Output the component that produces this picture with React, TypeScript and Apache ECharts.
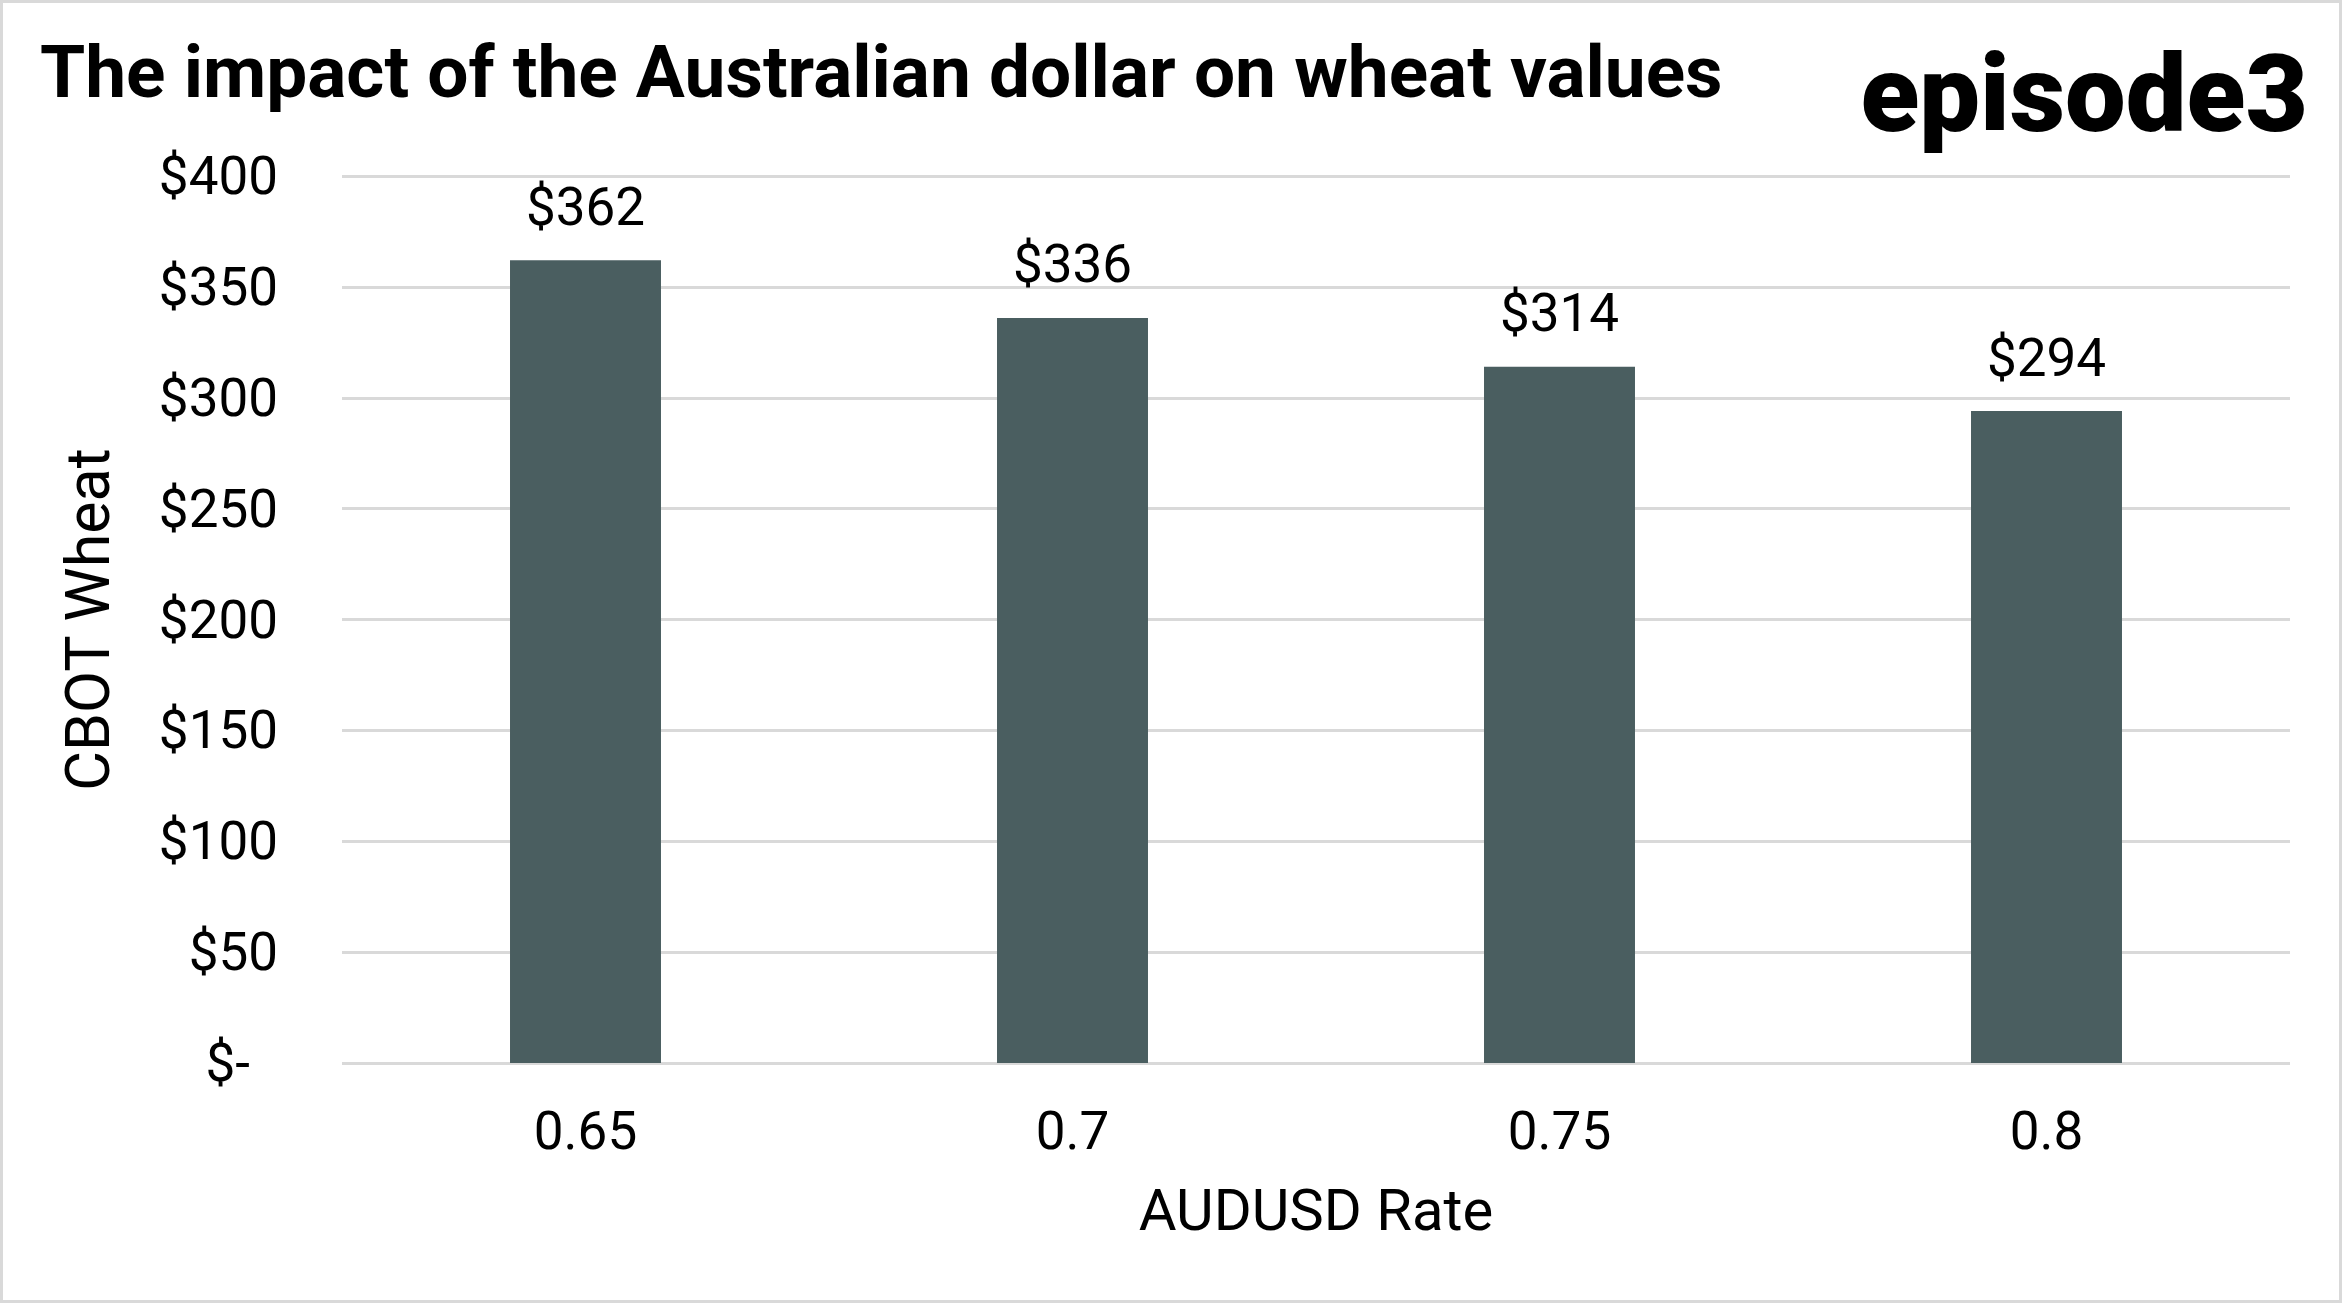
import React, { useEffect, useRef } from "react";
import * as echarts from "echarts";

const categories = ["0.65", "0.7", "0.75", "0.8"];
const wheatValues = [362, 336, 314, 294];
const yTicks = [0, 50, 100, 150, 200, 250, 300, 350, 400];

const TITLE = "The impact of the Australian dollar on wheat values";
const LOGO = "episode3";
const FONT = "Roboto, 'Noto Sans', sans-serif";

export default function App() {
  const ref = useRef<HTMLDivElement>(null);
  useEffect(() => {
    document.body.style.margin = "0";
    const chart = echarts.init(ref.current!, null, { renderer: "svg" });
    chart.setOption({
      animation: false,
      backgroundColor: "#ffffff",
      textStyle: { fontFamily: FONT },
      grid: { left: 342, right: 52, top: 176, bottom: 240 },
      graphic: [
        {
          type: "rect",
          shape: { x: 1.5, y: 1.5, width: 2339, height: 1300 },
          style: { fill: "none", stroke: "#d9d9d9", lineWidth: 3 },
        },
        {
          type: "text",
          x: 40,
          y: 72,
          style: {
            text: TITLE,
            fontFamily: FONT,
            fontWeight: "bold",
            fontSize: 73,
            fill: "#000",
            verticalAlign: "middle",
            align: "left",
          },
        },
        {
          type: "text",
          x: 2308,
          y: 94,
          style: {
            text: LOGO,
            fontFamily: FONT,
            fontWeight: 900,
            fontSize: 108,
            fill: "#000",
            verticalAlign: "middle",
            align: "right",
          },
        },
      ],
      xAxis: {
        type: "category",
        data: categories,
        axisLine: { show: false },
        axisTick: { show: false },
        axisLabel: { margin: 41, fontSize: 53, color: "#000", fontFamily: FONT },
        name: "AUDUSD Rate",
        nameLocation: "middle",
        nameGap: 118,
        nameTextStyle: { fontSize: 58, color: "#000", fontFamily: FONT },
      },
      yAxis: {
        type: "value",
        min: 0,
        max: 400,
        interval: 50,
        axisLine: { show: false },
        axisTick: { show: false },
        splitLine: { show: true, lineStyle: { color: "#d9d9d9", width: 3 } },
        axisLabel: {
          margin: 64,
          fontSize: 53,
          color: "#000",
          fontFamily: FONT,
          formatter: (v: number) => (yTicks.indexOf(v) === 0 ? "{z|$-}" : "$" + v),
          rich: { z: { fontSize: 53, color: "#000", fontFamily: FONT, padding: [0, 28, 0, 0] } },
        },
        name: "CBOT Wheat",
        nameLocation: "middle",
        nameGap: 224,
        nameTextStyle: { fontSize: 61, color: "#000", fontFamily: FONT },
      },
      series: [
        {
          type: "bar",
          data: wheatValues,
          barWidth: "31%",
          itemStyle: { color: "#4a5e60" },
          label: {
            show: true,
            position: "top",
            distance: 27,
            fontSize: 53,
            color: "#000",
            fontFamily: FONT,
            formatter: (p: any) => "$" + p.value,
          },
        },
      ],
    });
    return () => chart.dispose();
  }, []);
  return <div ref={ref} style={{ width: 2342, height: 1303 }} />;
}
